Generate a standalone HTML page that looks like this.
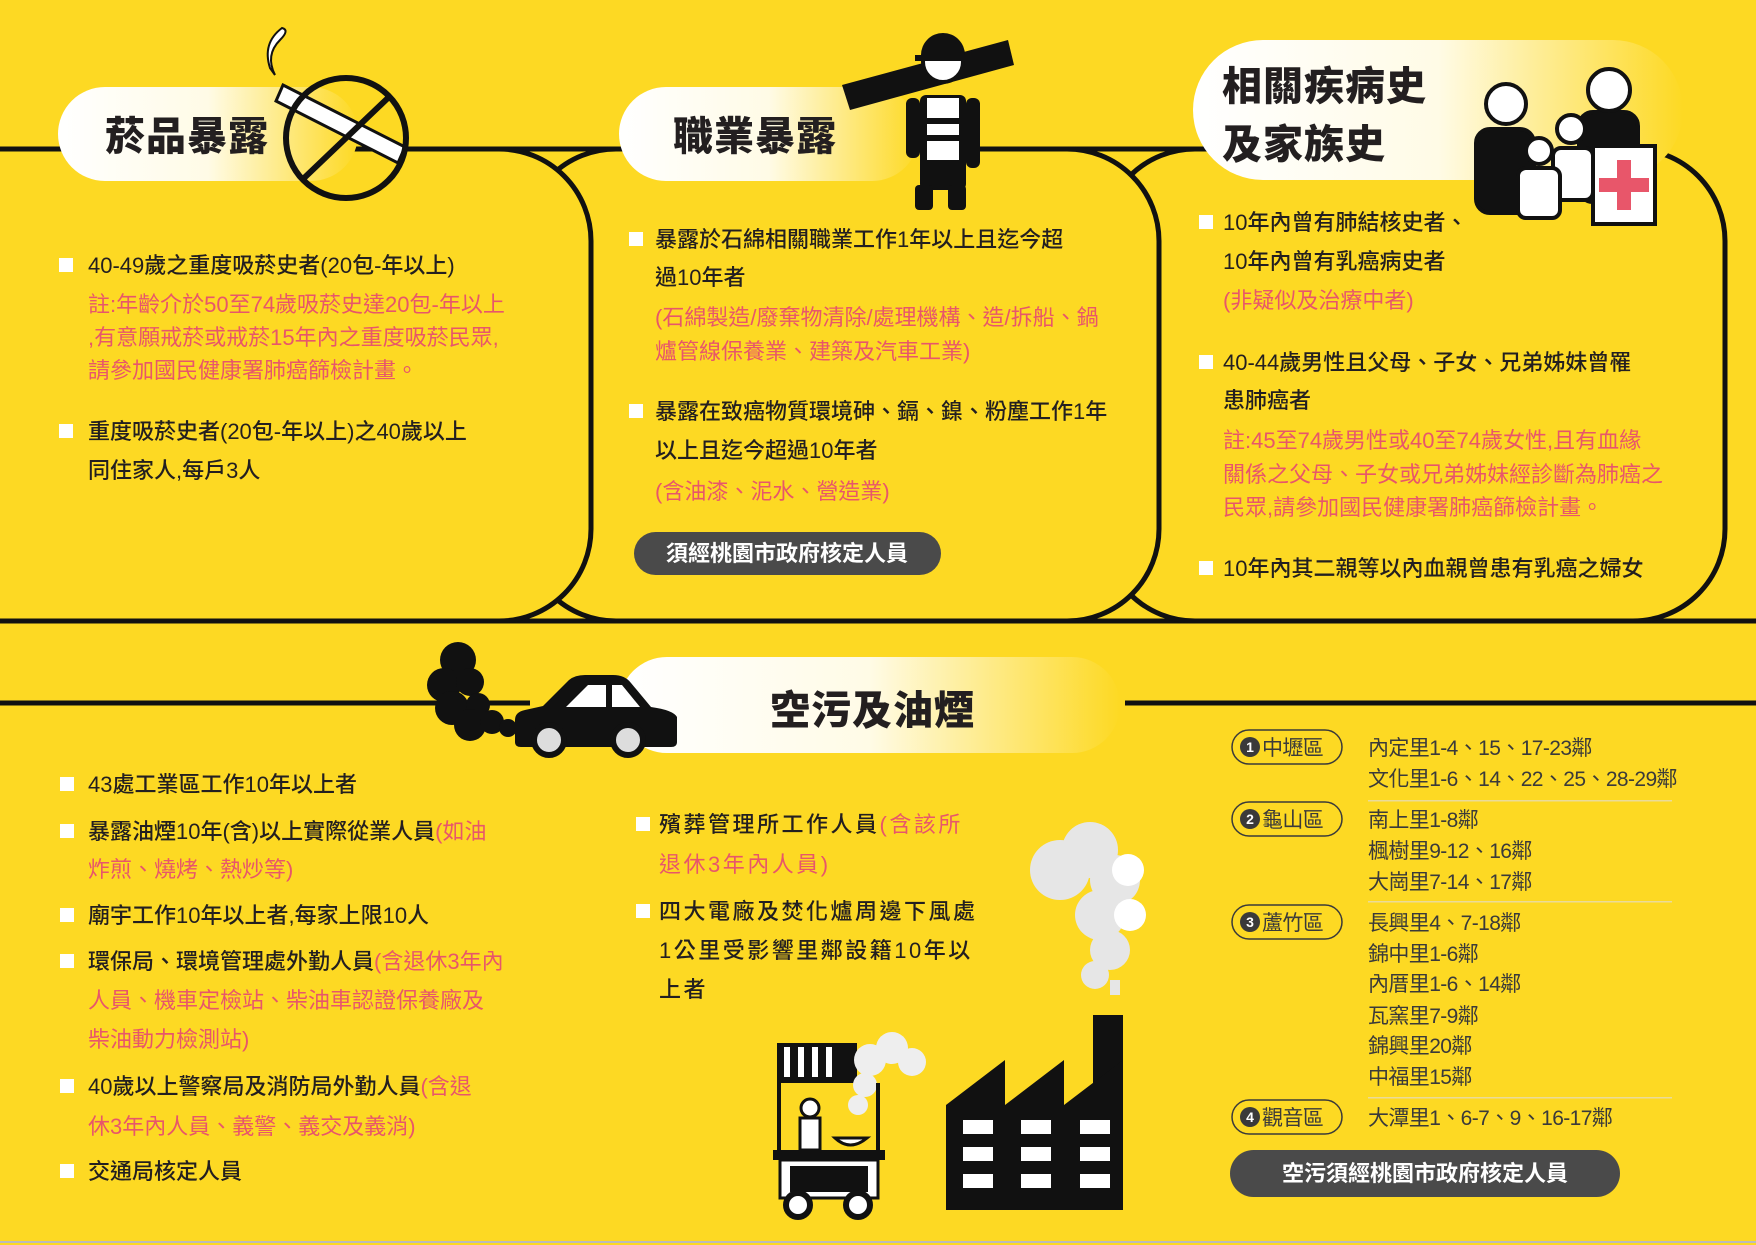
<!DOCTYPE html>
<html><head><meta charset="utf-8"><style>
html,body{margin:0;padding:0;background:#FDD923;}
svg{display:block}
text{font-family:"Liberation Sans","Noto Sans CJK TC",sans-serif;font-size:22px;fill:#231f20;font-weight:500}
.p{fill:#E8566A;font-weight:400}
.t{font-size:40px;font-weight:900;letter-spacing:1px}
.w{fill:#fff;font-size:22px;font-weight:700}
.r{font-size:21px;fill:#3a3a3a;font-weight:400;letter-spacing:-0.6px}
.s{letter-spacing:2.5px}
</style></head><body>
<svg width="1756" height="1245" viewBox="0 0 1756 1245" xmlns="http://www.w3.org/2000/svg">
<defs>
<linearGradient id="g" x1="0" x2="1" y1="0" y2="0">
<stop offset="0" stop-color="#fff"/><stop offset="0.5" stop-color="#fffbe6"/><stop offset="1" stop-color="#FDD923"/>
</linearGradient>
</defs>
<rect width="1756" height="1245" fill="#FDD923"/>
<line x1="0" y1="149" x2="1640" y2="149" stroke="#111" stroke-width="5"/>
<line x1="0" y1="621" x2="1756" y2="621" stroke="#111" stroke-width="5"/>
<rect x="1103" y="149" width="622" height="472" rx="92" fill="#FDD923" stroke="#111" stroke-width="5"/>
<rect x="524" y="149" width="635" height="472" rx="92" fill="#FDD923" stroke="#111" stroke-width="5"/>
<rect x="-100" y="149" width="691" height="472" rx="92" fill="#FDD923" stroke="#111" stroke-width="5"/>
<rect x="58" y="87" width="300" height="94" rx="47" fill="url(#g)"/>
<rect x="619" y="87" width="300" height="94" rx="47" fill="url(#g)"/>
<rect x="1193" y="40" width="490" height="140" rx="70" fill="url(#g)"/>
<text x="105" y="150" class="t">菸品暴露</text>
<text x="673" y="150" class="t">職業暴露</text>
<text x="1222" y="100" class="t">相關疾病史</text>
<text x="1222" y="158" class="t">及家族史</text>

<!-- no smoking -->
<path d="M275 75 q-10 -20 5 -35 q10 -10 2 -12 q-20 15 -12 40z" fill="#fff" stroke="#111" stroke-width="2"/>
<polygon points="283,85 405,147 398,163 276,101" fill="#fff" stroke="#111" stroke-width="3"/>
<circle cx="346" cy="138" r="60" fill="none" stroke="#111" stroke-width="6"/>
<line x1="390" y1="96" x2="302" y2="180" stroke="#111" stroke-width="6"/>

<!-- worker -->
<g fill="#111">
<polygon points="842,85 1008,40 1014,65 850,110"/>
<circle cx="943" cy="62" r="20" fill="#fff" stroke="#111" stroke-width="4"/>
<path d="M921 55 a22 22 0 0 1 44 0 h6 v6 h-56 v-6z"/>
<rect x="920" y="95" width="46" height="95" rx="6"/>
<rect x="927" y="98" width="32" height="62" fill="#fff"/>
<rect x="927" y="118" width="32" height="6"/><rect x="927" y="135" width="32" height="6"/>
<rect x="915" y="185" width="18" height="25" rx="4"/><rect x="948" y="185" width="18" height="25" rx="4"/>
<rect x="906" y="98" width="14" height="60" rx="6"/><rect x="966" y="98" width="14" height="70" rx="6"/>
</g>

<!-- family -->
<g stroke="#111" stroke-width="4">
<rect x="1476" y="129" width="58" height="84" rx="14" fill="#111"/>
<circle cx="1506" cy="104" r="20" fill="#fff"/>
<rect x="1579" y="112" width="59" height="90" rx="14" fill="#111"/>
<circle cx="1609" cy="90" r="21" fill="#fff"/>
<rect x="1553" y="148" width="40" height="52" rx="8" fill="#fff"/>
<circle cx="1571" cy="129" r="14" fill="#fff"/>
<rect x="1518" y="168" width="42" height="50" rx="8" fill="#fff"/>
<circle cx="1539" cy="151" r="13" fill="#fff"/>
<rect x="1593" y="146" width="62" height="78" fill="#fff"/>
</g>
<rect x="1617" y="160" width="14" height="50" fill="#E8566A"/>
<rect x="1599" y="178" width="50" height="14" fill="#E8566A"/>

<g fill="#fff"><rect x="59" y="258" width="14" height="14"/><rect x="59" y="424" width="14" height="14"/>
<rect x="629" y="232" width="14" height="14"/><rect x="629" y="404" width="14" height="14"/>
<rect x="1199" y="215" width="14" height="14"/><rect x="1199" y="355" width="14" height="14"/><rect x="1199" y="561" width="14" height="14"/></g>
<text x="88" y="273">40-49歲之重度吸菸史者(20包-年以上)</text>
<text x="88" y="312" class="p">註:年齡介於50至74歲吸菸史達20包-年以上</text>
<text x="88" y="345" class="p">,有意願戒菸或戒菸15年內之重度吸菸民眾,</text>
<text x="88" y="378" class="p">請參加國民健康署肺癌篩檢計畫。</text>
<text x="88" y="439">重度吸菸史者(20包-年以上)之40歲以上</text>
<text x="88" y="478">同住家人,每戶3人</text>

<text x="655" y="247">暴露於石綿相關職業工作1年以上且迄今超</text>
<text x="655" y="285">過10年者</text>
<text x="655" y="325" class="p">(石綿製造/廢棄物清除/處理機構、造/拆船、鍋</text>
<text x="655" y="359" class="p">爐管線保養業、建築及汽車工業)</text>
<text x="655" y="419">暴露在致癌物質環境砷、鎘、鎳、粉塵工作1年</text>
<text x="655" y="458">以上且迄今超過10年者</text>
<text x="655" y="499" class="p">(含油漆、泥水、營造業)</text>
<rect x="634" y="532" width="307" height="43" rx="21.5" fill="#4a4a4a"/>
<text x="787" y="561" class="w" text-anchor="middle">須經桃園市政府核定人員</text>

<text x="1223" y="230">10年內曾有肺結核史者、</text>
<text x="1223" y="269">10年內曾有乳癌病史者</text>
<text x="1223" y="308" class="p">(非疑似及治療中者)</text>
<text x="1223" y="370">40-44歲男性且父母、子女、兄弟姊妹曾罹</text>
<text x="1223" y="408">患肺癌者</text>
<text x="1223" y="448" class="p">註:45至74歲男性或40至74歲女性,且有血緣</text>
<text x="1223" y="482" class="p">關係之父母、子女或兄弟姊妹經診斷為肺癌之</text>
<text x="1223" y="515" class="p">民眾,請參加國民健康署肺癌篩檢計畫。</text>
<text x="1223" y="576">10年內其二親等以內血親曾患有乳癌之婦女</text>

<!-- section 2 -->
<line x1="0" y1="703" x2="530" y2="703" stroke="#111" stroke-width="5"/>
<line x1="1125" y1="703" x2="1756" y2="703" stroke="#111" stroke-width="5"/>
<rect x="619" y="657" width="501" height="96" rx="48" fill="url(#g)"/>
<text x="770" y="724" class="t">空污及油煙</text>

<!-- black smoke + car -->
<g fill="#111">
<circle cx="458" cy="660" r="18"/><circle cx="444" cy="685" r="17"/><circle cx="470" cy="682" r="14"/>
<circle cx="452" cy="708" r="17"/><circle cx="478" cy="705" r="12"/><circle cx="470" cy="725" r="16"/>
<circle cx="492" cy="722" r="12"/><circle cx="508" cy="728" r="9"/>
<path d="M515 742 v-22 q0 -8 10 -10 l18 -4 l26 -26 q6 -5 16 -5 h28 q12 0 18 8 l20 24 q22 3 26 10 v25 q0 5 -6 5 h-150 q-6 0 -6 -5z"/>
</g>
<g fill="#fff"><path d="M566 707 l22 -22 h18 v22z"/><path d="M612 685 h10 l18 22 h-28z"/></g>
<circle cx="549" cy="740" r="15" fill="#ddd" stroke="#111" stroke-width="6"/>
<circle cx="628" cy="740" r="15" fill="#ddd" stroke="#111" stroke-width="6"/>

<g fill="#fff">
<rect x="60" y="777" width="14" height="14"/><rect x="60" y="824" width="14" height="14"/>
<rect x="60" y="908" width="14" height="14"/><rect x="60" y="954" width="14" height="14"/>
<rect x="60" y="1079" width="14" height="14"/><rect x="60" y="1164" width="14" height="14"/>
<rect x="636" y="817" width="14" height="14"/><rect x="636" y="904" width="14" height="14"/>
</g>
<text x="88" y="792">43處工業區工作10年以上者</text>
<text x="88" y="839">暴露油煙10年(含)以上實際從業人員<tspan class="p">(如油</tspan></text>
<text x="88" y="877" class="p">炸煎、燒烤、熱炒等)</text>
<text x="88" y="923">廟宇工作10年以上者,每家上限10人</text>
<text x="88" y="969">環保局、環境管理處外勤人員<tspan class="p">(含退休3年內</tspan></text>
<text x="88" y="1008" class="p">人員、機車定檢站、柴油車認證保養廠及</text>
<text x="88" y="1047" class="p">柴油動力檢測站)</text>
<text x="88" y="1094">40歲以上警察局及消防局外勤人員<tspan class="p">(含退</tspan></text>
<text x="88" y="1134" class="p">休3年內人員、義警、義交及義消)</text>
<text x="88" y="1179">交通局核定人員</text>

<text x="659" y="832" class="s">殯葬管理所工作人員<tspan class="p">(含該所</tspan></text>
<text x="659" y="872" class="p s">退休3年內人員)</text>
<text x="659" y="919" class="s">四大電廠及焚化爐周邊下風處</text>
<text x="659" y="958" class="s">1公里受影響里鄰設籍10年以</text>
<text x="659" y="997" class="s">上者</text>

<!-- white smoke -->
<g fill="#e6e6e6">
<circle cx="1060" cy="870" r="30"/><circle cx="1090" cy="850" r="28"/><circle cx="1115" cy="880" r="25"/>
<circle cx="1100" cy="915" r="25"/><circle cx="1110" cy="950" r="20"/><circle cx="1095" cy="975" r="14"/>
<rect x="1110" y="980" width="10" height="15"/>
</g>
<g fill="#fff"><circle cx="1128" cy="870" r="16"/><circle cx="1130" cy="915" r="16"/></g>
<!-- factory -->
<g fill="#111">
<rect x="1093" y="1015" width="30" height="80"/>
<polygon points="946,1210 946,1105 1005,1060 1005,1105 1064,1060 1064,1105 1123,1060 1123,1210"/>
</g>
<g fill="#fff">
<rect x="963" y="1120" width="30" height="14"/><rect x="1021" y="1120" width="30" height="14"/><rect x="1080" y="1120" width="30" height="14"/>
<rect x="963" y="1147" width="30" height="14"/><rect x="1021" y="1147" width="30" height="14"/><rect x="1080" y="1147" width="30" height="14"/>
<rect x="963" y="1174" width="30" height="14"/><rect x="1021" y="1174" width="30" height="14"/><rect x="1080" y="1174" width="30" height="14"/>
</g>
<!-- food cart -->
<g>
<rect x="777" y="1043" width="80" height="40" fill="#111"/>
<g fill="#fff"><rect x="784" y="1047" width="6" height="30"/><rect x="798" y="1047" width="6" height="30"/><rect x="812" y="1047" width="6" height="30"/><rect x="826" y="1047" width="6" height="30"/></g>
<g fill="#eee"><circle cx="870" cy="1060" r="16"/><circle cx="892" cy="1048" r="16"/><circle cx="912" cy="1062" r="14"/><circle cx="865" cy="1085" r="12"/><circle cx="858" cy="1105" r="10"/></g>
<rect x="777" y="1083" width="4" height="70" fill="#111"/><rect x="876" y="1083" width="4" height="70" fill="#111"/>
<circle cx="810" cy="1108" r="9" fill="#fff" stroke="#111" stroke-width="3"/>
<rect x="800" y="1118" width="20" height="32" fill="#fff" stroke="#111" stroke-width="3"/>
<path d="M835 1138 q15 14 32 0z" fill="#fff" stroke="#111" stroke-width="3"/>
<rect x="773" y="1150" width="112" height="10" fill="#111"/>
<rect x="780" y="1160" width="98" height="38" fill="#fff" stroke="#111" stroke-width="3"/>
<rect x="790" y="1166" width="78" height="26" fill="#111"/>
<circle cx="798" cy="1205" r="12" fill="#fff" stroke="#111" stroke-width="6"/>
<circle cx="858" cy="1205" r="12" fill="#fff" stroke="#111" stroke-width="6"/>
</g>

<!-- district list -->
<g fill="none" stroke="#3a3a3a" stroke-width="1.5">
<rect x="1232" y="730" width="110" height="34" rx="17"/>
<rect x="1232" y="802" width="110" height="34" rx="17"/>
<rect x="1232" y="905" width="110" height="34" rx="17"/>
<rect x="1232" y="1100" width="110" height="34" rx="17"/>
</g>
<g fill="#eadb9a"><rect x="1368" y="800" width="304" height="1.5"/><rect x="1368" y="901" width="304" height="1.5"/><rect x="1368" y="1097" width="304" height="1.5"/></g>
<g fill="#3a3a3a"><circle cx="1250" cy="747" r="10"/><circle cx="1250" cy="819" r="10"/><circle cx="1250" cy="922" r="10"/><circle cx="1250" cy="1117" r="10"/></g>
<text x="1250" y="752" text-anchor="middle" style="fill:#fff;font-size:14px;font-weight:700">1</text>
<text x="1250" y="824" text-anchor="middle" style="fill:#fff;font-size:14px;font-weight:700">2</text>
<text x="1250" y="927" text-anchor="middle" style="fill:#fff;font-size:14px;font-weight:700">3</text>
<text x="1250" y="1122" text-anchor="middle" style="fill:#fff;font-size:14px;font-weight:700">4</text>
<text x="1262" y="755" class="r">中壢區</text>
<text x="1262" y="827" class="r">龜山區</text>
<text x="1262" y="930" class="r">蘆竹區</text>
<text x="1262" y="1125" class="r">觀音區</text>
<text x="1368" y="755" class="r">內定里1-4、15、17-23鄰</text>
<text x="1368" y="786" class="r">文化里1-6、14、22、25、28-29鄰</text>
<text x="1368" y="827" class="r">南上里1-8鄰</text>
<text x="1368" y="858" class="r">楓樹里9-12、16鄰</text>
<text x="1368" y="889" class="r">大崗里7-14、17鄰</text>
<text x="1368" y="930" class="r">長興里4、7-18鄰</text>
<text x="1368" y="961" class="r">錦中里1-6鄰</text>
<text x="1368" y="991" class="r">內厝里1-6、14鄰</text>
<text x="1368" y="1023" class="r">瓦窯里7-9鄰</text>
<text x="1368" y="1053" class="r">錦興里20鄰</text>
<text x="1368" y="1084" class="r">中福里15鄰</text>
<text x="1368" y="1125" class="r">大潭里1、6-7、9、16-17鄰</text>
<rect x="1230" y="1150" width="390" height="47" rx="23.5" fill="#4a4a4a"/>
<text x="1425" y="1181" class="w" text-anchor="middle">空污須經桃園市政府核定人員</text>
<line x1="0" y1="1242" x2="1756" y2="1242" stroke="#bbb" stroke-width="2"/>
</svg>
</body></html>
